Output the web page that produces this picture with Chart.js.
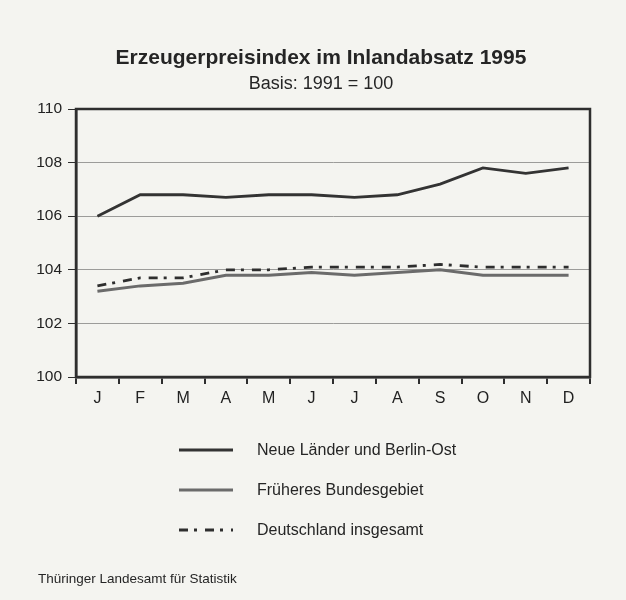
<!DOCTYPE html>
<html lang="de">
<head>
<meta charset="utf-8">
<script src="https://cdn.jsdelivr.net/npm/chart.js@4.4.1/dist/chart.umd.min.js"></script>
<style>
  body { margin: 0; background: #f4f4f0; }
  #wrap {
    position: relative; width: 626px; height: 600px;
    font-family: "Liberation Sans", Arial, Helvetica, sans-serif; color: #252525;
  }
  #chart { position: absolute; left: 0; top: 0; }
  .title { position: absolute; left: 0; width: 642px; text-align: center; top: 45px;
           font-size: 21px; font-weight: bold; line-height: 24px; }
  .subtitle { position: absolute; left: 0; width: 642px; text-align: center; top: 73px;
              font-size: 18px; line-height: 20px; }
  .legend { position: absolute; left: 178px; top: 430px; }
  .legend-row { display: flex; align-items: center; height: 40px; font-size: 16px; }
  .legend-row svg { margin-right: 23px; }
  .source { position: absolute; left: 38px; top: 571px; font-size: 13.5px; }
</style>
</head>
<body>
<div id="wrap">
  <canvas id="chart" width="626" height="600"></canvas>
  <div class="title">Erzeugerpreisindex im Inlandabsatz 1995</div>
  <div class="subtitle">Basis: 1991 = 100</div>
  <div class="legend" id="legend"></div>
  <div class="source">Thüringer Landesamt für Statistik</div>
</div>
<script>
// months of 1995
const months = ['J', 'F', 'M', 'A', 'M', 'J', 'J', 'A', 'S', 'O', 'N', 'D'];

const neueLaender = [106.0, 106.8, 106.8, 106.7, 106.8, 106.8, 106.7, 106.8, 107.2, 107.8, 107.6, 107.8];
const fruehBund   = [103.2, 103.4, 103.5, 103.8, 103.8, 103.9, 103.8, 103.9, 104.0, 103.8, 103.8, 103.8];
const deutschland = [103.4, 103.7, 103.7, 104.0, 104.0, 104.1, 104.1, 104.1, 104.2, 104.1, 104.1, 104.1];

const yTicks = [100, 102, 104, 106, 108, 110];

const seriesNames = ['Neue Länder und Berlin-Ost', 'Früheres Bundesgebiet', 'Deutschland insgesamt'];

const DARK = '#2e2e2e';
const FONT = '"Liberation Sans", Arial, sans-serif';
const dashDot = [9, 6, 3, 8];

const datasets = [
  { label: seriesNames[0], data: neueLaender, borderColor: '#333333', borderWidth: 2.8, dash: [] },
  { label: seriesNames[1], data: fruehBund, borderColor: '#6b6b6b', borderWidth: 3, dash: [] },
  { label: seriesNames[2], data: deutschland, borderColor: '#2e2e2e', borderWidth: 2.8, dash: dashDot }
].map(d => ({
  label: d.label,
  data: d.data,
  borderColor: d.borderColor,
  borderWidth: d.borderWidth,
  borderDash: d.dash,
  pointRadius: 0,
  tension: 0,
  fill: false
}));

// draw the top and right edges of the plot frame
const framePlugin = {
  id: 'frame',
  afterDraw(chart) {
    const { ctx, chartArea: a } = chart;
    ctx.save();
    ctx.strokeStyle = DARK;
    ctx.lineWidth = 2.5;
    ctx.strokeRect(a.left, a.top, a.right - a.left, a.bottom - a.top);
    ctx.restore();
  }
};

new Chart(document.getElementById('chart'), {
  type: 'line',
  data: { labels: months, datasets },
  plugins: [framePlugin],
  options: {
    responsive: false,
    animation: false,
    layout: { padding: { left: 30, right: 36, top: 109, bottom: 193 } },
    plugins: { legend: { display: false }, tooltip: { enabled: false } },
    scales: {
      x: {
        offset: true,
        afterFit: s => { s.height = 30; },
        grid: { offset: true, drawOnChartArea: false, tickLength: 7, tickColor: DARK, lineWidth: 2 },
        border: { color: DARK, width: 2.5 },
        ticks: {
          color: '#222', padding: 5, maxRotation: 0, autoSkip: false,
          font: { family: FONT, size: 16 }
        }
      },
      y: {
        min: 100, max: 110,
        afterFit: s => { s.width = 46; },
        afterBuildTicks: s => { s.ticks = yTicks.map(v => ({ value: v })); },
        grid: {
          color: c => (c.tick && (c.tick.value === 100 || c.tick.value === 110)) ? 'rgba(0,0,0,0)' : '#9c9c9a',
          tickColor: DARK, tickLength: 8, lineWidth: 1
        },
        border: { color: DARK, width: 2.5 },
        ticks: {
          color: '#222', padding: 6,
          font: { family: FONT, size: 15.5 }
        }
      }
    }
  }
});

// legend built from the same datasets
const legendEl = document.getElementById('legend');
datasets.forEach(d => {
  const row = document.createElement('div');
  row.className = 'legend-row';
  row.innerHTML =
    `<svg width="56" height="8"><line x1="1" y1="4" x2="55" y2="4" stroke="${d.borderColor}"
      stroke-width="${d.borderWidth}" stroke-dasharray="${d.borderDash.join(' ')}"/></svg>` +
    `<span>${d.label}</span>`;
  legendEl.appendChild(row);
});
</script>
</body>
</html>
